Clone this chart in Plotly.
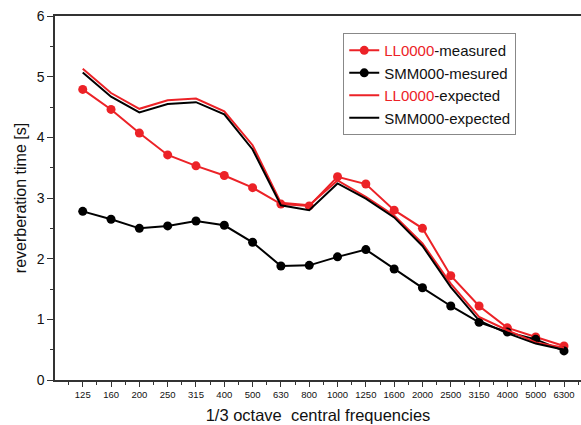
import plotly.graph_objects as go

freqs = ["125", "160", "200", "250", "315", "400", "500", "630", "800", "1000",
         "1250", "1600", "2000", "2500", "3150", "4000", "5000", "6300"]
ll_measured = [4.79, 4.46, 4.07, 3.71, 3.53, 3.37, 3.17, 2.90, 2.87, 3.35,
               3.23, 2.80, 2.50, 1.72, 1.22, 0.86, 0.71, 0.56]
smm_measured = [2.78, 2.65, 2.50, 2.54, 2.62, 2.55, 2.27, 1.88, 1.89, 2.03,
                2.15, 1.83, 1.52, 1.22, 0.95, 0.79, 0.67, 0.48]
ll_expected = [5.13, 4.73, 4.47, 4.61, 4.64, 4.43, 3.87, 2.92, 2.88, 3.29,
               3.02, 2.71, 2.25, 1.59, 1.04, 0.82, 0.62, 0.53]
smm_expected = [5.07, 4.67, 4.41, 4.55, 4.58, 4.38, 3.80, 2.88, 2.80, 3.24,
                2.99, 2.68, 2.21, 1.53, 0.98, 0.77, 0.60, 0.50]

RED = "#ec2227"
BLACK = "#000000"
x = list(range(len(freqs)))

fig = go.Figure()
fig.add_trace(go.Scatter(x=x, y=ll_measured, mode="lines+markers",
                         name='<span style="color:#ec2227">LL0000</span>-measured',
                         line=dict(color=RED, width=2), marker=dict(color=RED, size=9)))
fig.add_trace(go.Scatter(x=x, y=smm_measured, mode="lines+markers",
                         name="SMM000-mesured",
                         line=dict(color=BLACK, width=2), marker=dict(color=BLACK, size=9)))
fig.add_trace(go.Scatter(x=x, y=ll_expected, mode="lines",
                         name='<span style="color:#ec2227">LL0000</span>-expected',
                         line=dict(color=RED, width=2)))
fig.add_trace(go.Scatter(x=x, y=smm_expected, mode="lines",
                         name="SMM000-expected",
                         line=dict(color=BLACK, width=2)))

font = "Arial, Liberation Sans, sans-serif"
fig.update_layout(
    width=581, height=425,
    margin=dict(l=55, r=0, t=16, b=45),
    paper_bgcolor="white", plot_bgcolor="white",
    font=dict(family=font, color="#111111"),
    showlegend=True,
    legend=dict(x=0.548, y=0.953, xanchor="left", yanchor="top",
                bordercolor="#888888", borderwidth=1, bgcolor="white",
                font=dict(size=15, family=font, color="#111111"),
                tracegroupgap=0, itemwidth=30),
    xaxis=dict(
        range=[-0.98, 17.6], tickmode="array", tickvals=x, ticktext=freqs,
        ticks="outside", ticklen=5, tickwidth=1, tickcolor="#333333",
        tickfont=dict(size=9.5), showgrid=False, zeroline=False,
        showline=True, linecolor="#333333", linewidth=1.5, mirror=True,
        minor=dict(tickmode="array", tickvals=[i + 0.5 for i in range(-1, 18)],
                   ticks="outside", ticklen=3, tickcolor="#333333", showgrid=False),
        title=dict(text="1/3 octave  central frequencies", font=dict(size=16.5), standoff=10),
    ),
    yaxis=dict(
        range=[0, 6], dtick=1, ticks="outside", ticklen=6, tickwidth=1,
        tickcolor="#333333", tickfont=dict(size=14), showgrid=False, zeroline=False,
        showline=True, linecolor="#333333", linewidth=1.5,
        minor=dict(dtick=0.5, ticks="outside", ticklen=3, tickcolor="#333333", showgrid=False),
        title=dict(text="reverberation time [s]", font=dict(size=16), standoff=6),
    ),
)

fig.write_html("out.html")
